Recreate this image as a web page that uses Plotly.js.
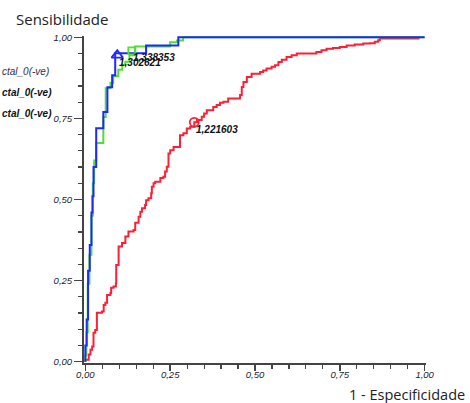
<!DOCTYPE html>
<html>
<head>
<meta charset="utf-8">
<script src="https://cdn.plot.ly/plotly-3.0.1.min.js"></script>
<style>
html,body{margin:0;padding:0;background:#fff;}
#chart{width:470px;height:403px;}
</style>
</head>
<body>
<div id="chart"></div>
<script>
// ---- data (1 - specificity, sensitivity) ----
const blueX = [0,0,0.004,0.004,0.008,0.008,0.013,0.013,0.018,0.018,0.021,0.021,0.024,0.024,0.032,0.032,0.053,0.053,0.065,0.065,0.079,0.079,0.088,0.088,0.179,0.179,0.274,0.274,1.0];
const blueY = [0,0.05,0.05,0.13,0.13,0.28,0.28,0.36,0.36,0.46,0.46,0.51,0.51,0.60,0.60,0.72,0.72,0.77,0.77,0.846,0.846,0.883,0.883,0.951,0.951,0.975,0.975,1.0,1.0];

const greenX = [0,0,0.003,0.003,0.007,0.007,0.012,0.012,0.018,0.018,0.022,0.022,0.026,0.026,0.032,0.032,0.053,0.053,0.060,0.060,0.074,0.074,0.082,0.082,0.097,0.097,0.109,0.109,0.118,0.118,0.130,0.130,0.146,0.146,0.250,0.250,0.270,0.270,0.288,0.288,1.0];
const greenY = [0,0.02,0.02,0.09,0.09,0.24,0.24,0.33,0.33,0.45,0.45,0.55,0.55,0.62,0.62,0.674,0.674,0.754,0.754,0.843,0.843,0.86,0.86,0.88,0.88,0.90,0.90,0.915,0.915,0.925,0.925,0.945,0.945,0.972,0.972,0.985,0.985,0.99,0.99,1.0,1.0];

const redX = [0,0.000,0.010,0.015,0.020,0.024,0.029,0.034,0.049,0.054,0.059,0.064,0.074,0.076,0.083,0.090,0.091,0.098,0.098,0.108,0.118,0.127,0.142,0.147,0.157,0.162,0.167,0.176,0.179,0.186,0.194,0.196,0.201,0.206,0.221,0.230,0.235,0.240,0.245,0.250,0.260,0.270,0.279,0.289,0.299,0.309,0.321,0.329,0.343,0.350,0.358,0.368,0.377,0.387,0.397,0.407,0.421,0.446,0.456,0.461,0.466,0.476,0.490,0.515,0.524,0.534,0.549,0.559,0.569,0.579,0.593,0.608,0.623,0.671,0.681,0.696,0.711,0.730,0.750,0.770,0.794,0.819,0.838,0.853,0.863,0.868,0.985];
const redY = [0,0.006,0.022,0.037,0.047,0.089,0.098,0.151,0.155,0.175,0.182,0.206,0.212,0.228,0.232,0.242,0.298,0.304,0.355,0.366,0.386,0.401,0.406,0.428,0.447,0.462,0.473,0.483,0.498,0.504,0.519,0.539,0.550,0.555,0.566,0.570,0.586,0.601,0.642,0.652,0.662,0.662,0.698,0.704,0.719,0.724,0.738,0.745,0.755,0.765,0.775,0.775,0.785,0.791,0.798,0.801,0.811,0.811,0.822,0.847,0.862,0.878,0.888,0.893,0.898,0.904,0.909,0.914,0.924,0.931,0.939,0.945,0.950,0.950,0.955,0.960,0.965,0.967,0.970,0.975,0.978,0.981,0.982,0.986,0.991,0.996,0.996];

// cut-off points and their labels
const cutBlue = {x: 0.094, y: 0.945, label: "1,302621"};
const cutGreen = {x: 0.137, y: 0.958, label: "1,338353"};
const cutRed = {x: 0.321, y: 0.738, label: "1,221603"};

const legendLabels = ["ctal_0(-ve)", "ctal_0(-ve)", "ctal_0(-ve)"];
const tickVals = [0, 0.25, 0.5, 0.75, 1.0];
const tickText = ["0,00", "0,25", "0,50", "0,75", "1,00"];
const yTitle = "Sensibilidade";
const xTitle = "1 - Especificidade";

// ---- layout geometry ----
const W = 470, H = 403;
const pad = 0.004;
const pxPerX = 340, pxPerY = 325;
const x0px = 85, y0px = 362;
const plotL = x0px - pad * pxPerX;
const plotR = x0px + (1 + pad) * pxPerX;
const plotB = y0px + pad * pxPerY;
const plotT = y0px - (1 + pad) * pxPerY;
const plotW = plotR - plotL, plotH = plotB - plotT;
const px2paperX = p => (p - plotL) / plotW;
const py2paperY = p => (plotB - p) / plotH;

const BLUE = '#1e28ff', GREEN = '#4fe030', RED = '#ff1f35';
const lineW = 2;

const traces = [
  {x: redX, y: redY, mode: 'lines', line: {color: RED, width: lineW, shape: 'hv'}, hoverinfo: 'skip'},
  {x: greenX, y: greenY, mode: 'lines', line: {color: GREEN, width: lineW, shape: 'hv'}, hoverinfo: 'skip'},
  {x: blueX, y: blueY, mode: 'lines', line: {color: BLUE, width: lineW, shape: 'hv'}, hoverinfo: 'skip'},
  {x: [cutGreen.x], y: [cutGreen.y], mode: 'markers', marker: {symbol: 'square-open', size: 7, color: GREEN, line: {width: 1.8}}, cliponaxis: false},
  {x: [cutRed.x], y: [cutRed.y], mode: 'markers', marker: {symbol: 'circle-open', size: 9, color: RED, line: {width: 1.8}}, cliponaxis: false},
  {x: [cutBlue.x], y: [cutBlue.y], mode: 'markers', marker: {symbol: 'triangle-up-open', size: 10, color: BLUE, line: {width: 1.8}}, cliponaxis: false}
];

const labelFont = {family: 'Liberation Sans, Arial, sans-serif', size: 10, color: '#111', style: 'italic', weight: 'bold'};
const annotations = [];
[cutBlue, cutGreen, cutRed].forEach((c, i) => {
  annotations.push({x: c.x, y: c.y, xref: 'x', yref: 'y', text: c.label, showarrow: false,
    xanchor: 'left', yanchor: 'middle', xshift: i === 1 ? -1 : 0, yshift: -7, font: labelFont});
});
const legY = [71, 92, 113];
legendLabels.forEach((t, i) => {
  annotations.push({x: px2paperX(-1), y: py2paperY(legY[i]), xref: 'paper', yref: 'paper', text: t, showarrow: false,
    xanchor: 'left', yanchor: 'middle',
    font: {family: 'Liberation Sans, Arial, sans-serif', size: 10, style: 'italic', weight: i === 0 ? 'normal' : 'bold', color: i === 0 ? '#2b3155' : '#111'}});
});
annotations.push({x: px2paperX(13), y: py2paperY(19), xref: 'paper', yref: 'paper', text: yTitle, showarrow: false,
  xanchor: 'left', yanchor: 'middle', font: {family: 'Open Sans, sans-serif', size: 15, color: '#222'}});
annotations.push({x: px2paperX(467), y: py2paperY(395), xref: 'paper', yref: 'paper', text: xTitle, showarrow: false,
  xanchor: 'right', yanchor: 'middle', font: {family: 'Open Sans, sans-serif', size: 14.5, color: '#222'}});

const tickFont = {family: 'Liberation Sans, Arial, sans-serif', size: 9.5, color: '#1a1c30', style: 'italic'};
const axisCommon = {
  range: [-pad, 1 + pad], showgrid: false, zeroline: false, showline: true, linecolor: '#444', linewidth: 2,
  ticks: 'outside', tickcolor: '#444', tickwidth: 1.5, tickvals: tickVals, ticktext: tickText, tickfont: tickFont,
  minor: {dtick: 0.05, tick0: 0, ticks: 'outside', ticklen: 4, tickcolor: '#444', tickwidth: 1.2, showgrid: false},
  fixedrange: true
};

const layout = {
  width: W, height: H,
  margin: {l: plotL, r: W - plotR, t: plotT, b: H - plotB, pad: 0},
  paper_bgcolor: '#fff', plot_bgcolor: '#fff',
  showlegend: false,
  xaxis: Object.assign({}, axisCommon, {ticklen: 6, ticklabelstandoff: -4}),
  yaxis: Object.assign({}, axisCommon, {ticklen: 8}),
  annotations: annotations
};

Plotly.newPlot('chart', traces, layout, {displayModeBar: false, staticPlot: true});
</script>
</body>
</html>
